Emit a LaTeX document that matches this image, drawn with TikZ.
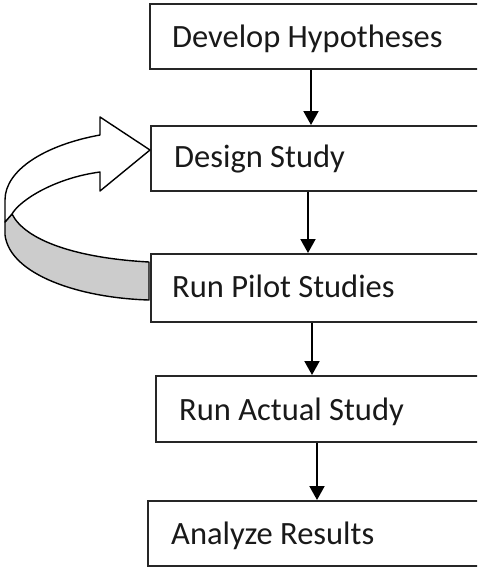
\documentclass[tikz,border=0pt]{standalone}
\usepackage{fontspec}
\setmainfont{Carlito}
\usetikzlibrary{arrows.meta}
\begin{document}
\begin{tikzpicture}[x=1pt,y=-1pt,
  stepbox/.style={draw=black!85,line width=1.6pt,fill=white,rectangle,minimum width=345pt,anchor=north west,inner sep=0pt},
  lbl/.style={anchor=base west,inner sep=0pt,font=\fontsize{32.5}{38}\selectfont,text=black!90},
  arr/.style={line width=2pt,-{Triangle[width=15pt,length=14pt]}},
  band/.style={draw=black,line width=1.4pt,line join=round}]
\useasboundingbox (0,0) rectangle (477,576);
\clip (0,0) rectangle (477,576);
% boxes
\node[stepbox,minimum height=65pt] (b1) at (149,3) {};
\node[stepbox,minimum height=65pt] (b2) at (150,125) {};
\node[stepbox,minimum height=68pt] (b3) at (150,253) {};
\node[stepbox,minimum height=66pt] (b4) at (155,375) {};
\node[stepbox,minimum height=65pt] (b5) at (147,500) {};
% labels
\node[lbl] (t1) at (172,47) {Develop Hypotheses};
\node[lbl] (t2) at (174,167) {Design Study};
\node[lbl] (t3) at (172,297) {Run Pilot Studies};
\node[lbl] (t4) at (179,420) {Run Actual Study};
\node[lbl] (t5) at (171,544) {Analyze Results};
% connectors
\coordinate (x1) at (311,0);
\coordinate (x2) at (308,0);
\coordinate (x3) at (312,0);
\coordinate (x4) at (317,0);
\draw[arr] (b1.south -| x1) -- (b2.north -| x1);
\draw[arr] (b2.south -| x2) -- (b3.north -| x2);
\draw[arr] (b3.south -| x3) -- (b4.north -| x3);
\draw[arr] (b4.south -| x4) -- (b5.north -| x4);
% curved block arrow (back, grey part)
\draw[band,fill=black!20]
  (149,262) .. controls (75,258) and (25,240) .. (12,214)
  -- (5,222) -- (5,235)
  .. controls (10,275) and (80,298) .. (149,300) -- cycle;
% front, white part with head
\draw[band,fill=white]
  (100,135) .. controls (45,145) and (5,170) .. (5,200)
  -- (5,222) -- (12,214)
  .. controls (20,200) and (55,178) .. (100,172)
  -- (100,191) -- (150,150) -- (100,117) -- cycle;
\end{tikzpicture}
\end{document}
